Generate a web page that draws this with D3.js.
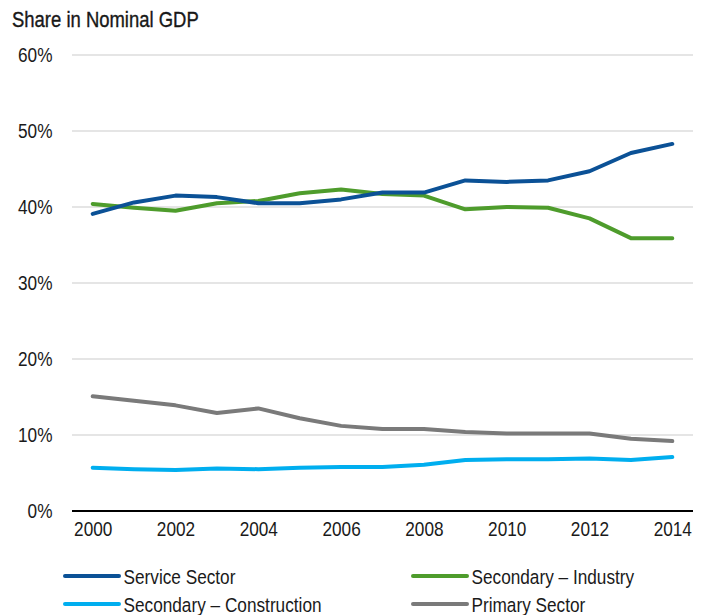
<!DOCTYPE html>
<html>
<head>
<meta charset="utf-8">
<script src="https://cdn.jsdelivr.net/npm/d3@7"></script>
<style>
  html, body { margin: 0; padding: 0; background: #fff; }
  svg text { font-family: "Liberation Sans", Arial, sans-serif; fill: #1a1a1a; }
</style>
</head>
<body>
<svg id="chart" width="704" height="615"></svg>
<script>
// Sector shares of nominal GDP, 2000–2014 (percent)
const years = [2000, 2001, 2002, 2003, 2004, 2005, 2006, 2007, 2008, 2009, 2010, 2011, 2012, 2013, 2014];
const serviceSector = [39.1, 40.6, 41.5, 41.3, 40.5, 40.5, 41.0, 41.9, 41.9, 43.5, 43.3, 43.5, 44.7, 47.1, 48.3];
const secondaryIndustry = [40.4, 39.9, 39.5, 40.5, 40.8, 41.8, 42.3, 41.7, 41.5, 39.7, 40.0, 39.9, 38.5, 35.9, 35.9];
const secondaryConstruction = [5.7, 5.5, 5.4, 5.6, 5.5, 5.7, 5.8, 5.8, 6.1, 6.7, 6.8, 6.8, 6.9, 6.7, 7.1];
const primarySector = [15.1, 14.5, 13.9, 12.9, 13.5, 12.2, 11.2, 10.8, 10.8, 10.4, 10.2, 10.2, 10.2, 9.5, 9.2];
const yTicks = [0, 10, 20, 30, 40, 50, 60];
const xTickYears = [2000, 2002, 2004, 2006, 2008, 2010, 2012, 2014];

const series = [
  { name: "Service Sector", values: serviceSector, color: "#0b5196" },
  { name: "Secondary – Industry", values: secondaryIndustry, color: "#4e9c2c" },
  { name: "Secondary – Construction", values: secondaryConstruction, color: "#00aeef" },
  { name: "Primary Sector", values: primarySector, color: "#7a7a7a" }
];

const svg = d3.select("#chart");
const plotLeft = 72, plotRight = 693, plotTop = 55, plotBottom = 511;
const NARROW = 0.84; // horizontal squeeze for a condensed look

// Condense text horizontally about its anchor point
function narrow(sel) {
  sel.each(function () {
    const t = d3.select(this);
    const xv = +t.attr("x") || 0;
    t.attr("x", xv / NARROW).attr("transform", `scale(${NARROW},1)`);
  });
}

const x = d3.scalePoint().domain(years).range([plotLeft, plotRight]).padding(0.5);
const y = d3.scaleLinear().domain([0, 60]).range([plotBottom, plotTop]);

// Title
svg.append("g").attr("transform", "translate(12,27)")
  .append("text")
  .style("font-size", "22px")
  .attr("fill", "#111").style("stroke", "#111").style("stroke-width", "0.35px")
  .text("Share in Nominal GDP")
  .call(narrow);

// Horizontal gridlines
svg.append("g")
  .selectAll("line")
  .data(yTicks.filter(d => d > 0))
  .join("line")
  .attr("x1", plotLeft).attr("x2", plotRight)
  .attr("y1", d => y(d)).attr("y2", d => y(d))
  .attr("stroke", "#dcdcdc").attr("stroke-width", 1.5);

// Y axis labels
const yAxis = d3.axisLeft(y).tickValues(yTicks).tickFormat(d => d + "%").tickSize(0).tickPadding(19.5);
const gy = svg.append("g").attr("transform", `translate(${plotLeft},0)`).call(yAxis);
gy.select(".domain").remove();
gy.attr("font-family", null).attr("font-size", null);
gy.selectAll("text").style("font-size", "20.5px").attr("fill", "#222").call(narrow);

// X axis
const xAxis = d3.axisBottom(x).tickValues(xTickYears).tickSize(0).tickPadding(10);
const gx = svg.append("g").attr("transform", `translate(0,${plotBottom})`).call(xAxis);
gx.select(".domain").remove();
gx.attr("font-family", null).attr("font-size", null);
gx.selectAll("text").style("font-size", "20.5px").attr("fill", "#222").call(narrow);
svg.append("line")
  .attr("x1", plotLeft).attr("x2", plotRight)
  .attr("y1", y(0)).attr("y2", y(0))
  .attr("stroke", "#000").attr("stroke-width", 2);

// Series lines
const line = d3.line()
  .x((d, i) => x(years[i]))
  .y(d => y(d));

svg.append("g")
  .selectAll("path")
  .data(series.slice().reverse())
  .join("path")
  .attr("d", d => line(d.values))
  .attr("fill", "none")
  .attr("stroke", d => d.color)
  .attr("stroke-width", 4)
  .attr("stroke-linejoin", "round")
  .attr("stroke-linecap", "round");

// Legend
const legendPos = [
  { lx: 65, ly: 576 }, { lx: 413, ly: 576 },
  { lx: 65, ly: 604 }, { lx: 413, ly: 604 }
];
const lg = svg.append("g")
  .selectAll("g")
  .data(series)
  .join("g")
  .attr("transform", (d, i) => `translate(${legendPos[i].lx},${legendPos[i].ly})`);
lg.append("line")
  .attr("x1", 0).attr("x2", 54)
  .attr("stroke", d => d.color).attr("stroke-width", 4)
  .attr("stroke-linecap", "round");
lg.append("g").attr("transform", "translate(58.5,7.5)")
  .append("text")
  .style("font-size", "20.5px")
  .attr("fill", "#1a1a1a")
  .text(d => d.name)
  .call(narrow);
</script>
</body>
</html>
